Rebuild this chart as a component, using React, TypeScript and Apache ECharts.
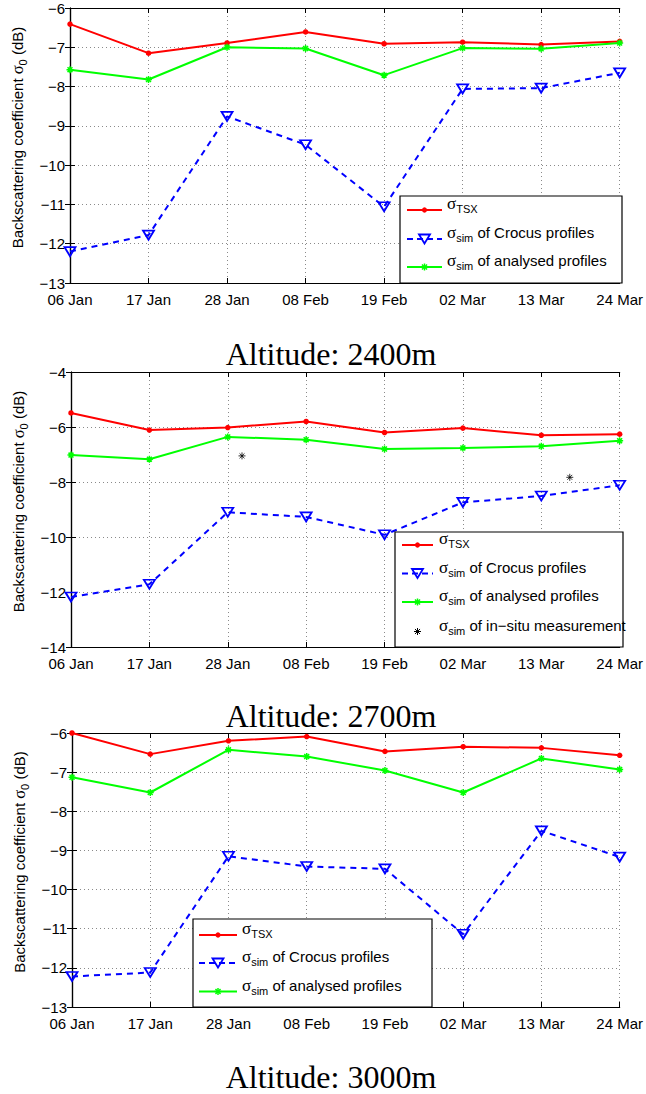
import React, { useEffect, useRef } from 'react';
import * as echarts from 'echarts';

// ---------- data ----------
const xTickLabels = ['06 Jan', '17 Jan', '28 Jan', '08 Feb', '19 Feb', '02 Mar', '13 Mar', '24 Mar'];
const dayOffsets = [0, 11, 22, 33, 44, 55, 66, 77]; // days after 06 Jan

const tsx2400 = [-6.41, -7.15, -6.89, -6.61, -6.91, -6.87, -6.93, -6.85];
const crocus2400 = [-12.2, -11.78, -8.76, -9.48, -11.06, -8.06, -8.04, -7.65];
const analysed2400 = [-7.57, -7.82, -7.0, -7.03, -7.71, -7.02, -7.04, -6.89];

const tsx2700 = [-5.49, -6.11, -6.02, -5.8, -6.2, -6.04, -6.3, -6.26];
const crocus2700 = [-12.18, -11.72, -9.1, -9.27, -9.92, -8.74, -8.51, -8.12];
const analysed2700 = [-7.02, -7.17, -6.36, -6.46, -6.8, -6.76, -6.7, -6.5];
const insituDays2700 = [24, 70];
const insitu2700 = [-7.05, -7.83];

const tsx3000 = [-6.0, -6.54, -6.2, -6.09, -6.47, -6.35, -6.38, -6.57];
const crocus3000 = [-12.22, -12.12, -9.15, -9.41, -9.47, -11.14, -8.5, -9.17];
const analysed3000 = [-7.13, -7.52, -6.43, -6.6, -6.96, -7.52, -6.65, -6.93];

const panelTitles = ['Altitude: 2400m', 'Altitude: 2700m', 'Altitude: 3000m'];
const yMins = [-13, -14, -13];
const yMaxs = [-6, -4, -6];
const yIntervals = [1, 2, 1];

const legendSubs = ['TSX', 'sim', 'sim', 'sim'];
const legendTexts = ['', ' of Crocus profiles', ' of analysed profiles', ' of in\u2212situ measurement'];
const yAxisTitle = ['Backscattering coefficient ', '\u03c3', '0', ' (dB)'];

// ---------- styles / layout ----------
const RED = '#ff0000';
const BLUE = '#0000ff';
const GREEN = '#00ff00';
const ASTER = 'path://M0,5L10,5M5,0L5,10M1.5,1.5L8.5,8.5M8.5,1.5L1.5,8.5';
const TRI = 'path://M0,0L12,0L6,10Z';
const SANS = '"Liberation Sans", Arial, Helvetica, sans-serif';
const SERIF = '"Liberation Serif", "Times New Roman", serif';

const grids = [
  { left: 70, top: 8, width: 552, height: 275 },
  { left: 71, top: 372, width: 552, height: 275 },
  { left: 72, top: 733, width: 551, height: 274 },
];
const titlePos = [
  { x: 331, y: 354 },
  { x: 331, y: 716 },
  { x: 331, y: 1077 },
];
const legendLayouts = [
  { box: [400, 196, 222, 87], lx: [407, 442], tx: 447, rows: [210, 239, 267] },
  { box: [395, 532, 228, 115], lx: [402, 433], tx: 439, rows: [545, 573.5, 602, 631.5] },
  { box: [193, 919, 239, 88], lx: [199, 237], tx: 242, rows: [935, 963, 991.5] },
];

const rich = {
  s: { fontFamily: SERIF, fontSize: 17, lineHeight: 22, verticalAlign: 'middle', color: '#000' },
  sub: { fontFamily: SANS, fontSize: 11, lineHeight: 8, verticalAlign: 'bottom', color: '#000' },
  t: { fontFamily: SANS, fontSize: 15, lineHeight: 22, verticalAlign: 'middle', color: '#000' },
};

const minus = (v: number) => String(v).replace('-', '\u2212');

function asterisk(cx: number, cy: number, r: number, color: string, w: number) {
  const d = r * 0.72;
  return [
    [cx - r, cy, cx + r, cy],
    [cx, cy - r, cx, cy + r],
    [cx - d, cy - d, cx + d, cy + d],
    [cx + d, cy - d, cx - d, cy + d],
  ].map((p) => ({
    type: 'line',
    z: 101,
    shape: { x1: p[0], y1: p[1], x2: p[2], y2: p[3] },
    style: { stroke: color, lineWidth: w },
  }));
}

function legendElements(li: number, kinds: number[]) {
  const L = legendLayouts[li];
  const els: any[] = [
    {
      type: 'rect',
      z: 100,
      shape: { x: L.box[0], y: L.box[1], width: L.box[2], height: L.box[3] },
      style: { fill: '#fff', stroke: '#000', lineWidth: 1.2 },
    },
  ];
  kinds.forEach((k, r) => {
    const y = L.rows[r];
    const cx = (L.lx[0] + L.lx[1]) / 2;
    if (k === 0) {
      els.push({ type: 'line', z: 101, shape: { x1: L.lx[0], y1: y, x2: L.lx[1], y2: y }, style: { stroke: RED, lineWidth: 2 } });
      els.push({ type: 'circle', z: 102, shape: { cx, cy: y, r: 2.6 }, style: { fill: RED } });
    } else if (k === 1) {
      els.push({ type: 'line', z: 101, shape: { x1: L.lx[0], y1: y, x2: L.lx[1], y2: y }, style: { stroke: BLUE, lineWidth: 2, lineDash: [6, 4] } });
      els.push({
        type: 'polygon', z: 102,
        shape: { points: [[cx - 5.5, y - 4.5], [cx + 5.5, y - 4.5], [cx, y + 4.5]] },
        style: { fill: 'none', stroke: BLUE, lineWidth: 1.8 },
      });
    } else if (k === 2) {
      els.push({ type: 'line', z: 101, shape: { x1: L.lx[0], y1: y, x2: L.lx[1], y2: y }, style: { stroke: GREEN, lineWidth: 2 } });
      els.push(...asterisk(cx, y, 3.5, GREEN, 1.5));
    } else {
      els.push(...asterisk(cx, y, 3.5, '#000', 1));
    }
    els.push({
      type: 'text',
      z: 103,
      style: {
        x: L.tx,
        y: y - 6.5,
        text: '{s|\u03c3}{sub|' + legendSubs[k] + '}' + (legendTexts[k] ? '{t|' + legendTexts[k] + '}' : ''),
        rich,
        align: 'left',
        verticalAlign: 'middle',
      },
    });
  });
  return els;
}

export default function App() {
  const ref = useRef<HTMLDivElement>(null);
  useEffect(() => {
    if (!ref.current) return;
    const chart = echarts.init(ref.current, undefined, { renderer: 'svg' });

    const xAxis: any[] = [];
    const yAxis: any[] = [];
    grids.forEach((_, i) => {
      const tick = { show: true, inside: true, length: 5, lineStyle: { color: '#000', width: 1 } };
      const line = { show: true, lineStyle: { color: '#000', width: 1.2 } };
      xAxis.push({
        type: 'value', gridIndex: i, min: 0, max: 77, interval: 11, position: 'bottom',
        axisLine: line, axisTick: tick,
        axisLabel: {
          color: '#000', fontFamily: SANS, fontSize: 15, margin: 9, lineHeight: 14,
          formatter: (v: number) => xTickLabels[Math.round(v / 11)] ?? '',
        },
        splitLine: { show: true, lineStyle: { color: '#8a8a8a', width: 1, type: [1, 3] } },
      });
      xAxis.push({
        type: 'value', gridIndex: i, min: 0, max: 77, interval: 11, position: 'top',
        axisLine: line, axisTick: tick, axisLabel: { show: false }, splitLine: { show: false },
      });
      yAxis.push({
        type: 'value', gridIndex: i, min: yMins[i], max: yMaxs[i], interval: yIntervals[i], position: 'left',
        axisLine: line, axisTick: tick,
        axisLabel: { color: '#000', fontFamily: SANS, fontSize: 15, margin: 5, lineHeight: 11, formatter: minus },
        splitLine: { show: true, lineStyle: { color: '#8a8a8a', width: 1, type: [1, 3] } },
        name: '{t|' + yAxisTitle[0] + '}{s|' + yAxisTitle[1] + '}{sub|' + yAxisTitle[2] + '}{t|' + yAxisTitle[3] + '}',
        nameLocation: 'middle',
        nameGap: 33,
        nameTextStyle: {
          padding: [0, 0, 0, 16],
          rich: {
            t: { fontFamily: SANS, fontSize: 15, lineHeight: 22, verticalAlign: 'middle', color: '#000' },
            s: { fontFamily: SERIF, fontSize: 16.5, lineHeight: 22, verticalAlign: 'middle', color: '#000' },
            sub: { fontFamily: SANS, fontSize: 11, lineHeight: 8, verticalAlign: 'bottom', color: '#000' },
          },
        },
      });
      yAxis.push({
        type: 'value', gridIndex: i, min: yMins[i], max: yMaxs[i], interval: yIntervals[i], position: 'right',
        axisLine: line, axisTick: tick, axisLabel: { show: false }, splitLine: { show: false },
      });
    });

    const panels = [
      [tsx2400, crocus2400, analysed2400],
      [tsx2700, crocus2700, analysed2700],
      [tsx3000, crocus3000, analysed3000],
    ];
    const series: any[] = [];
    panels.forEach((p, i) => {
      const toData = (vals: number[]) => dayOffsets.map((d, j) => [d, vals[j]]);
      series.push({
        type: 'line', name: '\u03c3TSX', xAxisIndex: 2 * i, yAxisIndex: 2 * i, data: toData(p[0]),
        symbol: 'circle', symbolSize: 5.5, showAllSymbol: true,
        lineStyle: { color: RED, width: 2 }, itemStyle: { color: RED }, z: 4,
      });
      series.push({
        type: 'line', name: '\u03c3sim of Crocus profiles', xAxisIndex: 2 * i, yAxisIndex: 2 * i, data: toData(p[1]),
        symbol: TRI, symbolSize: [11, 9], showAllSymbol: true,
        lineStyle: { color: BLUE, width: 2, type: [6, 5] },
        itemStyle: { color: 'rgba(0,0,0,0)', borderColor: BLUE, borderWidth: 1.8 }, z: 3,
      });
      series.push({
        type: 'line', name: '\u03c3sim of analysed profiles', xAxisIndex: 2 * i, yAxisIndex: 2 * i, data: toData(p[2]),
        symbol: ASTER, symbolSize: 7, showAllSymbol: true,
        lineStyle: { color: GREEN, width: 2 },
        itemStyle: { color: GREEN, borderColor: GREEN, borderWidth: 1.5 }, z: 4,
      });
    });
    series.push({
      type: 'scatter', name: '\u03c3sim of in-situ measurement', xAxisIndex: 2, yAxisIndex: 2,
      data: insituDays2700.map((d, j) => [d, insitu2700[j]]),
      symbol: ASTER, symbolSize: 7,
      itemStyle: { color: '#000', borderColor: '#000', borderWidth: 1 }, z: 5,
    });

    const graphic: any[] = [];
    panelTitles.forEach((t, i) => {
      graphic.push({
        type: 'text', z: 110,
        style: {
          x: titlePos[i].x, y: titlePos[i].y, text: t, align: 'center', verticalAlign: 'middle',
          font: '32px ' + SERIF, lineHeight: 30, fill: '#000',
        },
      });
    });
    graphic.push(...legendElements(0, [0, 1, 2]));
    graphic.push(...legendElements(1, [0, 1, 2, 3]));
    graphic.push(...legendElements(2, [0, 1, 2]));

    chart.setOption({
      animation: false,
      backgroundColor: '#fff',
      grid: grids,
      xAxis,
      yAxis,
      series,
      graphic,
    });
    return () => chart.dispose();
  }, []);
  return (
    <div
      ref={ref}
      style={{ position: 'absolute', left: 0, top: 0, width: 646, height: 1094, background: '#fff' }}
    />
  );
}
